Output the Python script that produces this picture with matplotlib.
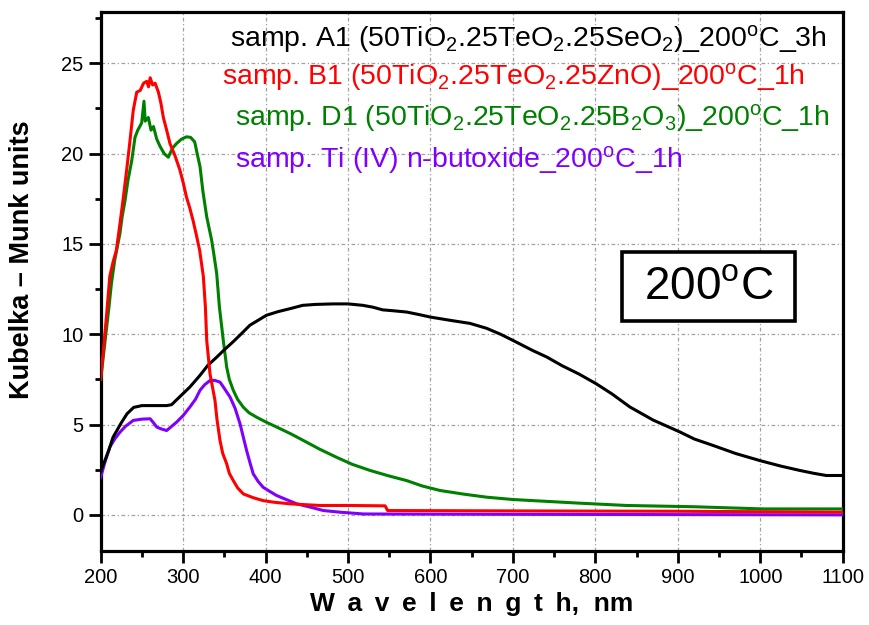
import matplotlib
matplotlib.use("Agg")
import matplotlib.pyplot as plt
from matplotlib.patches import Rectangle
from matplotlib.ticker import MultipleLocator

# ---------------- data ----------------
wl_A1 = [200, 205, 210, 215, 220, 225, 232, 240, 250, 260, 270, 280, 286, 295, 308, 320, 330, 340, 349, 361,
         370, 381, 401, 415, 430, 445, 460, 482, 500, 518, 530, 542, 555, 571, 585, 600, 624, 648, 668, 685,
         700, 724, 741, 760, 780, 801, 820, 842, 870, 903, 920, 943, 970, 1000, 1025, 1048, 1065, 1080, 1100]
km_A1 = [2.4, 3.0, 3.6, 4.3, 4.7, 5.1, 5.6, 5.95, 6.05, 6.05, 6.05, 6.05, 6.1, 6.5, 7.07, 7.7, 8.28, 8.7, 9.1, 9.6,
         10.0, 10.5, 11.05, 11.25, 11.42, 11.6, 11.65, 11.68, 11.68, 11.6, 11.5, 11.35, 11.3, 11.23, 11.1, 10.95,
         10.77, 10.6, 10.33, 10.0, 9.66, 9.1, 8.74, 8.25, 7.8, 7.26, 6.7, 5.97, 5.25, 4.58, 4.2, 3.84, 3.4, 3.0,
         2.7, 2.46, 2.3, 2.18, 2.18]

wl_B1 = [200, 203, 207, 211, 215, 219, 223, 227, 231.5, 235, 239.5, 243.7, 248, 252, 255.8, 258, 260, 263, 266,
         270, 273, 276, 280, 284, 290, 296, 300, 304, 308, 312, 316, 320, 324.5, 327, 328.6, 332.6, 338.6, 341,
         344.7, 348, 352.8, 356, 360.8, 366, 373, 385, 397, 410, 430, 466, 500, 545, 548, 700, 900, 1100]
km_B1 = [7.5, 9.0, 11.0, 13.2, 14.0, 14.65, 16.0, 17.4, 19.1, 20.5, 22.4, 23.4, 23.5, 23.9, 24.0, 23.7, 24.2, 23.8,
         23.9, 23.4, 22.8, 22.0, 21.3, 20.56, 19.9, 19.1, 18.4, 17.6, 17.0, 16.3, 15.5, 14.65, 13.2, 11.5, 9.66,
         7.8, 6.34, 5.3, 4.12, 3.4, 2.83, 2.3, 1.9, 1.5, 1.16, 0.95, 0.79, 0.7, 0.61, 0.52, 0.52, 0.5, 0.24, 0.22,
         0.2, 0.15]

wl_D1 = [200, 205, 210, 213, 217, 220, 223.4, 226, 229.5, 233, 237.6, 241.6, 245, 249.7, 252.5, 254, 257.8, 261,
         264, 268, 272, 277, 282, 287, 292, 298, 304, 309, 314, 317, 320.5, 324, 328.6, 334.6, 337, 340.7, 344,
         348.7, 352.8, 356, 360.8, 366, 373, 380, 389, 400, 413.5, 430, 445.8, 465, 486, 505, 526.7, 550, 571,
         590, 611.6, 640, 668, 700, 724, 780, 838, 920, 1003, 1100]
km_D1 = [7.5, 9.5, 11.5, 12.8, 14.1, 14.8, 15.6, 16.5, 17.4, 18.5, 19.6, 20.9, 21.3, 21.7, 22.9, 21.8, 22.0, 21.3,
         21.5, 20.8, 20.4, 20.0, 19.8, 20.3, 20.56, 20.8, 20.93, 20.9, 20.65, 20.0, 19.27, 17.9, 16.5, 15.2, 14.5,
         13.36, 11.5, 9.66, 8.18, 7.5, 6.9, 6.4, 5.96, 5.65, 5.41, 5.15, 4.86, 4.5, 4.12, 3.65, 3.19, 2.8, 2.46,
         2.15, 1.9, 1.6, 1.35, 1.15, 0.98, 0.85, 0.79, 0.65, 0.52, 0.45, 0.33, 0.33]

wl_Ti = [200, 205, 211, 217, 223.4, 230, 239.5, 250, 260, 264, 268, 274, 280, 286, 292, 300, 308, 315, 320.5, 326,
         332.6, 338, 344.7, 350, 356.9, 363, 369, 373, 377, 381, 385, 391, 397, 405, 413.5, 425, 437.8, 455, 470,
         490, 518.5, 700, 1100]
km_Ti = [2.08, 2.9, 3.75, 4.2, 4.58, 4.9, 5.23, 5.3, 5.32, 5.1, 4.86, 4.75, 4.67, 4.9, 5.13, 5.5, 5.96, 6.4, 6.9,
         7.2, 7.44, 7.45, 7.35, 7.0, 6.52, 5.9, 5.04, 4.3, 3.56, 2.9, 2.27, 1.85, 1.53, 1.3, 1.07, 0.85, 0.61,
         0.42, 0.24, 0.15, 0.05, 0.03, 0.0]

labels = [
    r"samp. A1 (50TiO$_2$.25TeO$_2$.25SeO$_2$)_200$^{\rm o}$C_3h",
    r"samp. B1 (50TiO$_2$.25TeO$_2$.25ZnO)_200$^{\rm o}$C_1h",
    r"samp. D1 (50TiO$_2$.25TeO$_2$.25B$_2$O$_3$)_200$^{\rm o}$C_1h",
    r"samp. Ti (IV) n-butoxide_200$^{\rm o}$C_1h",
]
colors = ["#000000", "#FF0000", "#008000", "#8000FF"]
xticks = [200, 300, 400, 500, 600, 700, 800, 900, 1000, 1100]
yticks = [0, 5, 10, 15, 20, 25]

# ---------------- style ----------------
plt.rcParams["font.family"] = ["Liberation Sans", "DejaVu Sans"]
plt.rcParams["mathtext.fontset"] = "custom"
plt.rcParams["mathtext.rm"] = "Liberation Sans"
plt.rcParams["mathtext.it"] = "Liberation Sans:italic"
plt.rcParams["mathtext.bf"] = "Liberation Sans:bold"

W, H = 870, 625
fig = plt.figure(figsize=(W / 100, H / 100), dpi=100)
x0, x1, y0, y1 = 100.7, 842.7, 12, 551
ax = fig.add_axes([x0 / W, 1 - y1 / H, (x1 - x0) / W, (y1 - y0) / H])

lw = 2.2
ax.plot(wl_Ti, km_Ti, color=colors[3], lw=lw, zorder=3)
ax.plot(wl_D1, km_D1, color=colors[2], lw=lw, zorder=4)
ax.plot(wl_A1, km_A1, color=colors[0], lw=lw, zorder=5)
ax.plot(wl_B1, km_B1, color=colors[1], lw=lw, zorder=6)

ax.set_xlim(200, 1100)
ax.set_ylim(-2, 27.84)
ax.set_xticks(xticks)
ax.set_yticks(yticks)
ax.xaxis.set_minor_locator(MultipleLocator(50))
ax.yaxis.set_minor_locator(MultipleLocator(2.5))

ax.set_xticklabels([str(v) for v in xticks], fontsize=14.5)
ax.set_yticklabels([str(v) for v in yticks], fontsize=14.5)
ax.tick_params(which="major", direction="out", length=8.5, width=2.0, pad=4)
ax.tick_params(which="minor", direction="out", length=4, width=2.0)
ax.tick_params(top=False, right=False)

for s in ax.spines.values():
    s.set_linewidth(2.3)

ax.grid(True, which="major", color="#a0a0a0", linestyle=(0, (3, 2, 1, 2)), linewidth=0.9, zorder=1)
ax.set_axisbelow(True)

xlab = "\u2009 ".join(list("Wavelength")) + ",  nm"
ax.set_xlabel(xlab, fontsize=19, fontweight="bold", family=["Liberation Sans", "DejaVu Sans"], labelpad=3)
ax.set_ylabel("Kubelka – Munk units", fontsize=19.5, fontweight="bold")
ax.yaxis.set_label_coords(-0.088, (y1 - 260) / (y1 - y0))

# legend-like texts
text_pos = [(230, 39), (222, 77), (235, 118), (235, 160)]
for (px, py), lab, c in zip(text_pos, labels, colors):
    fig.text(px / W, 1 - py / H, lab, color=c, fontsize=20.5, ha="left", va="center")

# boxed temperature label
bx0, by0, bx1, by1 = 622, 252, 795, 321
ax.add_patch(Rectangle((bx0 / W, 1 - by1 / H), (bx1 - bx0) / W, (by1 - by0) / H,
                       transform=fig.transFigure, fill=True, facecolor="white",
                       edgecolor="black", linewidth=2.6, zorder=7, clip_on=False))
fig.text((bx0 + bx1) / 2 / W, 1 - 287 / H, r"200$^{\rm o}$C", fontsize=33, ha="center", va="center", zorder=8)

fig.savefig("out.png", dpi=100)
